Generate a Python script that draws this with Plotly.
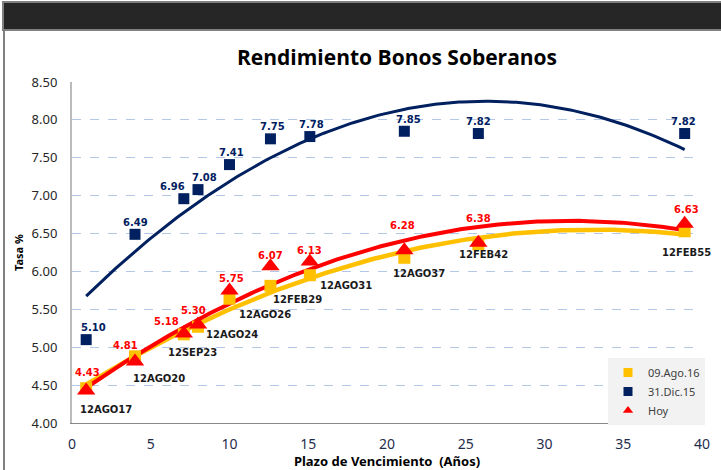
import numpy as np
import plotly.graph_objects as go

# ---- data ----
plazo = [0.9, 4.0, 7.1, 8.0, 10.0, 12.6, 15.1, 21.1, 25.8, 38.9]
bonos = ["12AGO17", "12AGO20", "12SEP23", "12AGO24", "12AGO26",
         "12FEB29", "12AGO31", "12AGO37", "12FEB42", "12FEB55"]
hoy = [4.43, 4.81, 5.18, 5.30, 5.75, 6.07, 6.13, 6.28, 6.38, 6.63]
ago16 = [4.46, 4.88, 5.17, 5.27, 5.64, 5.81, 5.95, 6.18, 6.36, 6.53]
dic15 = [5.10, 6.49, 6.96, 7.08, 7.41, 7.75, 7.78, 7.85, 7.82, 7.82]
y_ticks = [4.0, 4.5, 5.0, 5.5, 6.0, 6.5, 7.0, 7.5, 8.0, 8.5]
x_ticks = [0, 5, 10, 15, 20, 25, 30, 35, 40]

# label offsets (pixels)
dic_dx = [7, 0, -11, 6, 2, 2, 2, 4, 0, -1]
hoy_dx = [1, -10, -17, -5, 2, 0, 0, -2, 0, 2]
hoy_dy = [18, 16, 12, 14, 12, 11, 11, 25, 24, 14]
bono_dx = [20, 24, 9, 34, 35, 27, 36, 15, 5, 2]
bono_dy = [-19, -17, -19, -10, -24, -33, -24, -23, -12, -29]

NAVY = "#002060"
YEL = "#FFC000"
RED = "#FF0000"

fig = go.Figure()

xs = np.linspace(min(plazo), max(plazo), 200)
for ys, col, w in [(ago16, YEL, 4.5), (hoy, RED, 4), (dic15, NAVY, 3)]:
    c = np.polyfit(plazo, ys, 2)
    fig.add_trace(go.Scatter(x=xs, y=np.polyval(c, xs), mode="lines",
                             line=dict(color=col, width=w), showlegend=False,
                             hoverinfo="skip"))

fig.add_trace(go.Scatter(x=plazo, y=ago16, mode="markers", showlegend=False,
                         marker=dict(symbol="square", size=12, color=YEL)))
fig.add_trace(go.Scatter(x=plazo, y=dic15, mode="markers", showlegend=False,
                         marker=dict(symbol="square", size=11, color=NAVY)))
fig.add_trace(go.Scatter(x=plazo, y=hoy, mode="markers", showlegend=False,
                         marker=dict(symbol="triangle-up", size=16, color=RED)))

# legend-only entries
for name, sym, col in [("09.Ago.16", "square", YEL), ("31.Dic.15", "square", NAVY),
                       ("Hoy", "triangle-up", RED)]:
    fig.add_trace(go.Scatter(x=[None], y=[None], mode="markers", name=name,
                             marker=dict(symbol=sym, size=9, color=col)))

lab_font = dict(family="DejaVu Sans", size=10)
for i in range(len(plazo)):
    fig.add_annotation(x=plazo[i], y=dic15[i], text="<b>%.2f</b>" % dic15[i],
                       showarrow=False, xshift=dic_dx[i], yshift=12,
                       font=dict(lab_font, color=NAVY))
    fig.add_annotation(x=plazo[i], y=hoy[i], text="<b>%.2f</b>" % hoy[i],
                       showarrow=False, xshift=hoy_dx[i], yshift=hoy_dy[i],
                       font=dict(lab_font, color=RED))
    fig.add_annotation(x=plazo[i], y=hoy[i], text="<b>%s</b>" % bonos[i],
                       showarrow=False, xshift=bono_dx[i], yshift=bono_dy[i],
                       font=dict(lab_font, color="#1a1a1a"))

# frame decorations (paper coords from pixel margins)
W, H = 721, 470
L, R, T, B = 72, 19, 82, 47
pw, ph = W - L - R, H - T - B
def px(x):
    return (x - L) / pw
def py(y):
    return (H - B - y) / ph

shapes = [
    dict(type="rect", xref="paper", yref="paper", x0=px(3), x1=px(722),
         y0=py(30), y1=py(2), fillcolor="#262626", line=dict(color="#808080", width=2)),
    dict(type="line", xref="paper", yref="paper", x0=px(4), x1=px(4),
         y0=py(30), y1=py(471), line=dict(color="#808080", width=2)),
]

fig.update_layout(
    width=W, height=H,
    margin=dict(l=L, r=R, t=T, b=B, autoexpand=False),
    paper_bgcolor="white", plot_bgcolor="white",
    title=dict(text="<b>Rendimiento Bonos Soberanos</b>", x=(397) / W, xanchor="center",
               y=1 - 58 / H, yanchor="middle",
               font=dict(family="Open Sans", size=21, color="black")),
    shapes=shapes,
    showlegend=True,
    legend=dict(x=px(705), y=py(358), xanchor="right", yanchor="top",
                bgcolor="#F2F2F2", font=dict(family="Noto Sans", size=11, color="#404040"),
                tracegroupgap=0, itemwidth=30),
    xaxis=dict(range=[0, 40], tickvals=x_ticks, ticktext=[str(v) for v in x_ticks],
               showgrid=False, zeroline=False, showline=True, linecolor="#888888",
               linewidth=1, ticks="", ticklabelstandoff=8, automargin=False,
               tickfont=dict(family="Noto Sans", size=14, color="#1f2d4d"),
               title=dict(text="<b>Plazo de Vencimiento  (Años)</b>", standoff=4,
                          font=dict(family="Noto Sans", size=13, color="black"))),
    yaxis=dict(range=[4.0, 8.5], tickvals=y_ticks, ticktext=["%.2f" % v for v in y_ticks],
               showgrid=True, gridcolor="#B4C7E7", griddash="dash", gridwidth=1,
               zeroline=False, showline=True, linecolor="#BBBBBB", linewidth=2,
               ticks="", ticklabelstandoff=10, automargin=False,
               tickfont=dict(family="Noto Sans", size=13, color="#262626"),
               title=dict(text="<b>Tasa %</b>", standoff=6,
                          font=dict(family="Noto Sans", size=11, color="black"))),
)

fig.write_html("out.html", config={"displayModeBar": False},
               post_script="document.body.style.margin='0';document.body.style.overflow='hidden';")
